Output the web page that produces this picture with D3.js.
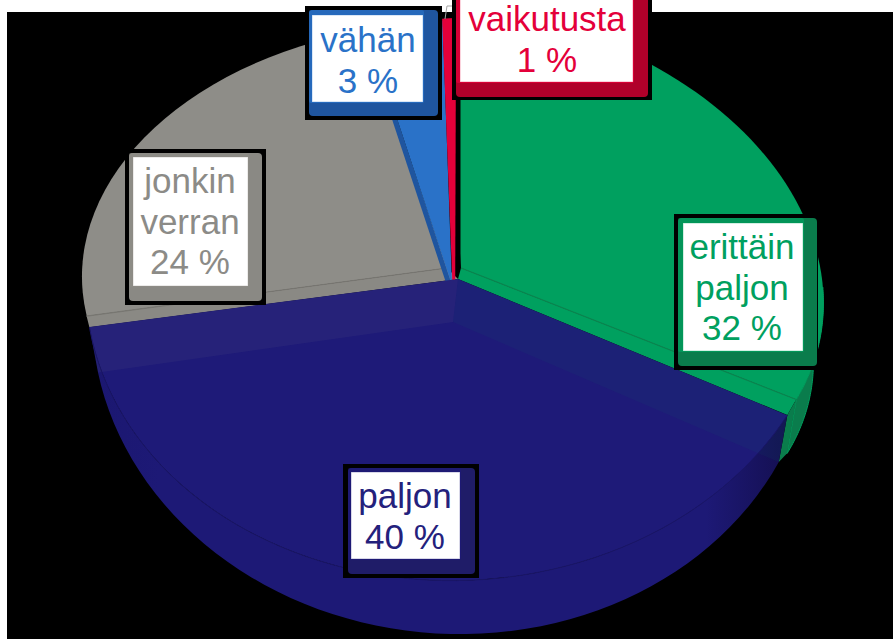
<!DOCTYPE html>
<html>
<head>
<meta charset="utf-8">
<script src="https://cdn.jsdelivr.net/npm/d3@7"></script>
<style>
  html, body { margin: 0; padding: 0; background: #fff; }
  text { font-family: "Liberation Sans", Arial, sans-serif; font-size: 35px; text-anchor: middle; }
</style>
</head>
<body>
<div id="chart"></div>
<script>
// pie slices in drawing order of the original (clockwise from 12 o'clock)
var categories = ["erittäin paljon", "paljon", "jonkin verran", "vähän", "vaikutusta"];
var values = [32, 40, 24, 3, 1];
var labelLines = [["erittäin", "paljon", "32 %"], ["paljon", "40 %"], ["jonkin", "verran", "24 %"], ["vähän", "3 %"], ["vaikutusta", "1 %"]];

var width = 893, height = 639;

// tilted-pie projection per slice: a,b,c,d map the unit circle, e,f is the apex
var tilt = [
  {a: 362, b: 18, c: 22, d: 262, e: 461, f: 268},
  {a: 372, b: -17, c: 8.5, d: 301.5, e: 458, f: 279},
  {a: 365, b: -10, c: -2, d: 246, e: 447, f: 268},
  {a: 403, b: -16, c: 0, d: 265, e: 452, f: 285},
  {a: 220, b: -1, c: 0, d: 332, e: 455, f: 350}
];
var navyBottom = {a: 361, b: -2, c: 8, d: 312, e: 453, f: 322};
var greenBottom = {a: 352, b: 18, c: 22, d: 250, e: 461, f: 327};

var topColor = ["#00a05f", "#1e1a78", "#8e8d88", "#2a72c8", "#e4003a"];
var wallColor = ["#0a7c4c", "#1d1976", "#8a8984", "#1f559f", "#b0002a"];
var edgeColor = ["#0b8550", "#1a1668", "#787772", "#1f559f", "#e4003a"];
var textColor = ["#00a05f", "#24217c", "#8c8b87", "#2a72c8", "#e4003a"];

// label boxes: black backing, bevel, white face, text centre and first baseline
var boxes = [
  {black: [674, 214, 818, 370], bevel: [678, 218, 817, 366], face: [683, 223, 803, 351], cx: 742, base: 259},
  {black: [343, 464, 479, 578], bevel: [348, 468, 475, 574], face: [351, 472, 460, 559], cx: 405, base: 508},
  {black: [125, 149, 266, 305], bevel: [129, 153, 262, 301], face: [133, 157, 248, 286], cx: 190, base: 193},
  {black: [305, 6, 442, 120], bevel: [309, 10, 438, 116], face: [312, 15, 423, 102], cx: 368, base: 52},
  {black: [452, -10, 652, 100], bevel: [456, -10, 648, 97], face: [460, -10, 633, 82], cx: 547, base: 31}
];

var svg = d3.select("#chart").append("svg")
    .attr("width", width)
    .attr("height", height)
    .style("display", "block");

var defs = svg.append("defs");
var navyGrad = defs.append("linearGradient")
    .attr("id", "navyWall")
    .attr("gradientUnits", "userSpaceOnUse")
    .attr("x1", 90).attr("x2", 790).attr("y1", 0).attr("y2", 0);
navyGrad.append("stop").attr("offset", 0).attr("stop-color", "#1b1770");
navyGrad.append("stop").attr("offset", 0.1).attr("stop-color", "#1d1976");
navyGrad.append("stop").attr("offset", 0.88).attr("stop-color", "#1d1976");
navyGrad.append("stop").attr("offset", 1).attr("stop-color", "#140f50");

// the green slice stops at a straight edge, leaving the black gap next to the red one
defs.append("clipPath")
    .attr("id", "greenClip")
  .append("rect")
    .attr("x", 460.5).attr("y", 0).attr("width", width).attr("height", height);

// page is white with a black picture area
svg.append("rect").attr("width", width).attr("height", height).attr("fill", "#fff");
svg.append("rect").attr("x", 7).attr("y", 12).attr("width", width - 7).attr("height", height - 12).attr("fill", "#000");

var pie = d3.pie().sort(null).value(function(d) { return d; });
var slices = pie(values);

var arc = d3.arc().innerRadius(0).outerRadius(1);
var line = d3.line();

function project(m, angle) {
  var u = Math.sin(angle), v = -Math.cos(angle);
  return [m.e + m.a * u + m.b * v, m.f + m.c * u + m.d * v];
}
function apex(m) { return [m.e, m.f]; }

function drawTop(i, parent) {
  var m = tilt[i];
  (parent || svg).append("path")
      .attr("class", "slice-top")
      .attr("d", arc(slices[i]))
      .attr("transform", "matrix(" + [m.a, m.c, m.b, m.d, m.e, m.f].join(",") + ")")
      .attr("fill", topColor[i])
      .attr("stroke", "none");
}

// outer rim between the top arc and the same arc on the lower face
function rim(topM, bottomM, a0, a1) {
  var angles = d3.range(0, 61).map(function(k) { return a0 + (a1 - a0) * k / 60; });
  var upper = angles.map(function(t) { return project(topM, t); });
  var lower = angles.map(function(t) { return project(bottomM, t); }).reverse();
  return line(upper.concat(lower)) + "Z";
}

function poly(points, fill, opacity) {
  svg.append("path")
      .attr("d", line(points) + "Z")
      .attr("fill", fill)
      .attr("fill-opacity", opacity === undefined ? 1 : opacity);
}

function edge(p, q, color) {
  svg.append("path")
      .attr("d", line([p, q]))
      .attr("fill", "none")
      .attr("stroke", color)
      .attr("stroke-width", 1.2);
}

var GREEN = 0, NAVY = 1, GRAY = 2, BLUE = 3, RED = 4;

// slices behind the navy one
drawTop(GRAY);
var grayCorner = project(tilt[GRAY], slices[GRAY].startAngle);
var navyLeft = project(tilt[NAVY], slices[NAVY].endAngle);
var navyRight = project(tilt[NAVY], slices[NAVY].startAngle);
var navyLeftLow = project(navyBottom, slices[NAVY].endAngle);
var navyRightLow = project(navyBottom, slices[NAVY].startAngle);
poly([apex(tilt[GRAY]), grayCorner, navyLeft, apex(tilt[NAVY])], wallColor[GRAY]);
edge(apex(tilt[GRAY]), grayCorner, edgeColor[GRAY]);

// blue wedge with its darker side strip
var blueEdge = project(tilt[BLUE], slices[BLUE].startAngle);
poly([apex(tilt[BLUE]), blueEdge, [blueEdge[0], blueEdge[1] + 16], [apex(tilt[BLUE])[0], apex(tilt[BLUE])[1] + 16]], wallColor[BLUE]);
drawTop(BLUE);
drawTop(RED);

// green slice and its rim
svg.append("path")
    .attr("d", rim(tilt[GREEN], greenBottom, slices[GREEN].endAngle, slices[GREEN].endAngle - 0.45))
    .attr("fill", wallColor[GREEN])
    .attr("stroke", topColor[GREEN])
    .attr("stroke-width", 1);
var greenTop = svg.append("g").attr("clip-path", "url(#greenClip)");
drawTop(GREEN, greenTop);
var greenCorner = project(tilt[GREEN], slices[GREEN].endAngle);
var greenLow = project(greenBottom, slices[GREEN].endAngle);
poly([apex(tilt[GREEN]), greenCorner, navyRight, apex(tilt[NAVY])], topColor[GREEN]);
poly([greenCorner, greenLow, navyRightLow, navyRight], wallColor[GREEN]);
edge(apex(tilt[GREEN]), greenCorner, edgeColor[GREEN]);

// navy slice sits in front: rim, top face, then the walls seen through it
svg.append("path")
    .attr("d", rim(tilt[NAVY], navyBottom, slices[NAVY].startAngle, slices[NAVY].endAngle))
    .attr("fill", "url(#navyWall)");
drawTop(NAVY);

poly([apex(tilt[NAVY]), navyLeft, navyLeftLow, apex(navyBottom)], "#908f8a", 0.08);
poly([apex(tilt[NAVY]), navyRight, navyRightLow, apex(navyBottom)], "#00a05f", 0.06);

svg.append("path")
    .attr("d", d3.line()(d3.range(0, 61).map(function(k) {
      var s = slices[NAVY];
      return project(tilt[NAVY], s.startAngle + (s.endAngle - s.startAngle) * k / 60);
    })))
    .attr("fill", "none")
    .attr("stroke", edgeColor[NAVY])
    .attr("stroke-width", 1);

// thin leader line of the smallest slice
svg.append("path")
    .attr("d", line([[445, 19], [447, 6], [453, 6]]))
    .attr("fill", "none")
    .attr("stroke", "#a5a5a5")
    .attr("stroke-width", 1);

// labels
labelLines.forEach(function(lines, i) {
  var b = boxes[i];
  var g = svg.append("g").attr("class", "label");
  g.append("rect")
      .attr("x", b.black[0]).attr("y", b.black[1])
      .attr("width", b.black[2] - b.black[0]).attr("height", b.black[3] - b.black[1])
      .attr("fill", "#000");
  g.append("rect")
      .attr("x", b.bevel[0]).attr("y", b.bevel[1])
      .attr("width", b.bevel[2] - b.bevel[0]).attr("height", b.bevel[3] - b.bevel[1])
      .attr("rx", 4)
      .attr("fill", i === NAVY ? "#1f1c68" : wallColor[i]);
  // lit top and left side of the bevel
  g.append("rect")
      .attr("x", b.bevel[0]).attr("y", b.bevel[1])
      .attr("width", b.face[2] + 1 - b.bevel[0]).attr("height", b.face[3] + 1 - b.bevel[1])
      .attr("rx", 2)
      .attr("fill", topColor[i])
      .attr("fill-opacity", 0.7);
  g.append("rect")
      .attr("x", b.face[0]).attr("y", b.face[1])
      .attr("width", b.face[2] - b.face[0]).attr("height", b.face[3] - b.face[1])
      .attr("fill", "#fff")
      .attr("stroke", topColor[i])
      .attr("stroke-opacity", 0.35)
      .attr("stroke-width", 1);
  g.selectAll("text")
      .data(lines)
    .enter().append("text")
      .attr("x", b.cx)
      .attr("y", function(d, k) { return b.base + k * 40.5; })
      .attr("fill", textColor[i])
      .text(function(d) { return d; });
});
</script>
</body>
</html>
